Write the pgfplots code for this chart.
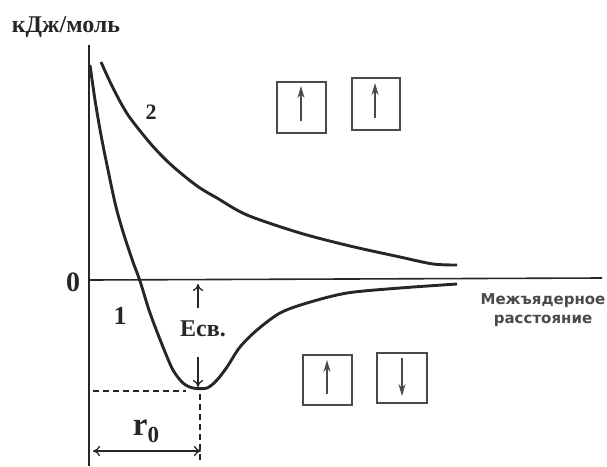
\documentclass[border=0pt]{standalone}
\usepackage{pgfplots}
\pgfplotsset{compat=1.18}
\usetikzlibrary{arrows.meta}
\usepackage{fontspec}
\setmainfont{Liberation Serif}
\newfontfamily\labelsans{DejaVu Sans}

\definecolor{ink}{HTML}{262626}
\definecolor{boxink}{HTML}{4A4A4A}

\begin{document}
\begin{tikzpicture}
\useasboundingbox (0,0) rectangle (607pt,466pt);
\begin{axis}[
  at={(0,0)}, anchor=south west,
  scale only axis, width=607pt, height=466pt,
  xmin=0, xmax=607, ymin=0, ymax=466,
  y dir=reverse,
  hide axis, clip=false,
]
% energy axis and zero level
\draw[ink, line width=1.6pt] (89,45) -- (89,466);
\draw[ink, line width=1.6pt] (89,280) -- (602,278);

% curve 1: bonding state (antiparallel spins)
\addplot[ink, line width=2.9pt, smooth, tension=0.5] coordinates {
  (90,65) (95,100) (101,135) (108,170) (116,207) (124,235) (133,262)
  (140,281) (150,313) (163,347) (173,370) (183,383) (193,388) (207,388)
  (217,380) (227,367) (240,347) (257,330) (280,313) (307,303)
  (347,293) (400,288) (457,284)
};

% curve 2: repulsive state (parallel spins)
\addplot[ink, line width=2.9pt, smooth, tension=0.5] coordinates {
  (101,62) (113,88) (128,115) (150,143) (167,161) (183,175) (200,188)
  (217,198) (247,215) (300,233) (350,246) (400,257) (433,264) (457,265)
};

% equilibrium distance and binding energy
\draw[ink, line width=1.2pt, dash pattern=on 6pt off 4pt] (93,391) -- (186,391);
\draw[ink, line width=1.2pt, dash pattern=on 6pt off 4pt] (200,394) -- (200,462);
\draw[ink, line width=1.3pt, {To[length=7pt,width=10pt]}-{To[length=7pt,width=10pt]}] (93,451) -- (201,451);
\draw[ink, line width=1.3pt, -{To[length=7pt,width=10pt]}] (198,308) -- (198,284);
\draw[ink, line width=1.3pt, -{To[length=7pt,width=10pt]}] (198,357) -- (198,387);

% spin diagrams
\begin{scope}[boxink, line width=1.7pt]
  \draw (277,82) rectangle (326,133);
  \draw (352,78) rectangle (400,130);
  \draw (303,355) rectangle (352,405);
  \draw (377,353) rectangle (427,403);
  \draw[-{Stealth[length=12pt,width=7pt]}] (301,121) -- (301,86);
  \draw[-{Stealth[length=12pt,width=7pt]}] (375,118) -- (375,83);
  \draw[-{Stealth[length=12pt,width=7pt]}] (327,394) -- (327,360);
  \draw[-{Stealth[length=12pt,width=7pt]}] (402,358) -- (402,396);
\end{scope}

% labels
\node[ink, font=\fontsize{24}{24}\selectfont\bfseries] at (66,27) {кДж/моль};
\node[ink, font=\fontsize{28}{28}\selectfont\bfseries] at (73,282) {0};
\node[ink, font=\fontsize{26}{26}\selectfont\bfseries] at (120,316) {1};
\node[ink, font=\fontsize{22}{22}\selectfont\bfseries] at (151,112) {2};
\node[ink, font=\fontsize{24}{24}\selectfont\bfseries, inner sep=1pt] at (203,329) {Есв.};
\node[ink, font=\bfseries] at (146,431) {{\fontsize{33}{33}\selectfont r}{\fontsize{23}{23}\selectfont\raisebox{-7pt}{0}}};
\node[boxink, font=\fontsize{15}{15}\selectfont\labelsans\bfseries, align=center, inner sep=0pt] at (543,310)
  {Межъядерное\\[4pt]расстояние};
\end{axis}
\end{tikzpicture}
\end{document}
